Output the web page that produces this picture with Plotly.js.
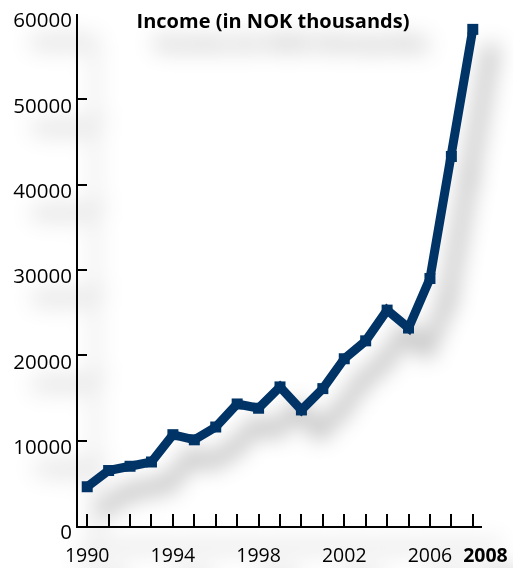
<!DOCTYPE html>
<html>
<head>
<meta charset="utf-8">
<script src="https://cdn.plot.ly/plotly-3.0.1.min.js"></script>
<style>
  html, body { margin: 0; padding: 0; background: #ffffff; }
  #chart { width: 513px; height: 568px; filter: drop-shadow(18px 22px 11px rgba(0,0,0,0.38)); }
</style>
</head>
<body>
<div id="chart"></div>
<script>
const years = [1990,1991,1992,1993,1994,1995,1996,1997,1998,1999,2000,2001,2002,2003,2004,2005,2006,2007,2008];
const income = [4600,6500,7000,7500,10700,10100,11600,14300,13800,16300,13600,16100,19600,21700,25300,23200,29000,43300,58200];
const tickYears = years;
const tickLabels = ['1990','','','','1994','','','','1998','','','','2002','','','','2006','','\u00a0\u00a0\u00a0\u00a0\u00a0<b>2008</b>'];
const yTicks = [0,10000,20000,30000,40000,50000,60000];
const titleText = '<b>Income (in NOK thousands)</b>';

const navy = '#003366';
const yfont = {family: '"Open Sans", sans-serif', size: 20.5, color: '#000'};
const xfont = {family: '"Open Sans", sans-serif', size: 19.5, color: '#000'};

const trace = {
  x: years, y: income, type: 'scatter', mode: 'lines+markers',
  line: {color: navy, width: 9},
  marker: {symbol: 'square', size: 11, color: navy},
  hoverinfo: 'none', cliponaxis: false
};

const layout = {
  width: 513, height: 568,
  margin: {l: 78, r: 31, t: 14, b: 42},
  paper_bgcolor: 'rgba(0,0,0,0)', plot_bgcolor: 'rgba(0,0,0,0)',
  showlegend: false,
  font: yfont,
  title: {
    text: titleText, font: {family: '"Open Sans", sans-serif', size: 20, color: '#000'},
    xref: 'container', yref: 'container', x: 273/513, xanchor: 'center', y: 1 - 21/568, yanchor: 'middle'
  },
  xaxis: {
    range: [1989.57, 2008.43], tickmode: 'array', tickvals: tickYears, ticktext: tickLabels,
    ticks: 'inside', ticklen: 12, tickwidth: 2, tickcolor: '#000', tickangle: 0,
    showline: true, linecolor: '#000', linewidth: 2, showgrid: false, zeroline: false,
    ticklabelstandoff: 11, tickfont: xfont, ticklabeloverflow: 'allow'
  },
  yaxis: {
    range: [0, 60000], tickmode: 'array', tickvals: yTicks, ticktext: yTicks.map(String),
    ticks: 'inside', ticklen: 9, tickwidth: 2, tickcolor: '#000',
    showline: true, linecolor: '#000', linewidth: 2, showgrid: false, zeroline: false,
    ticklabelshift: 6, ticklabelstandoff: 0, tickfont: yfont, ticklabeloverflow: 'allow'
  }
};

Plotly.newPlot('chart', [trace], layout, {staticPlot: true, displayModeBar: false});
</script>
</body>
</html>
